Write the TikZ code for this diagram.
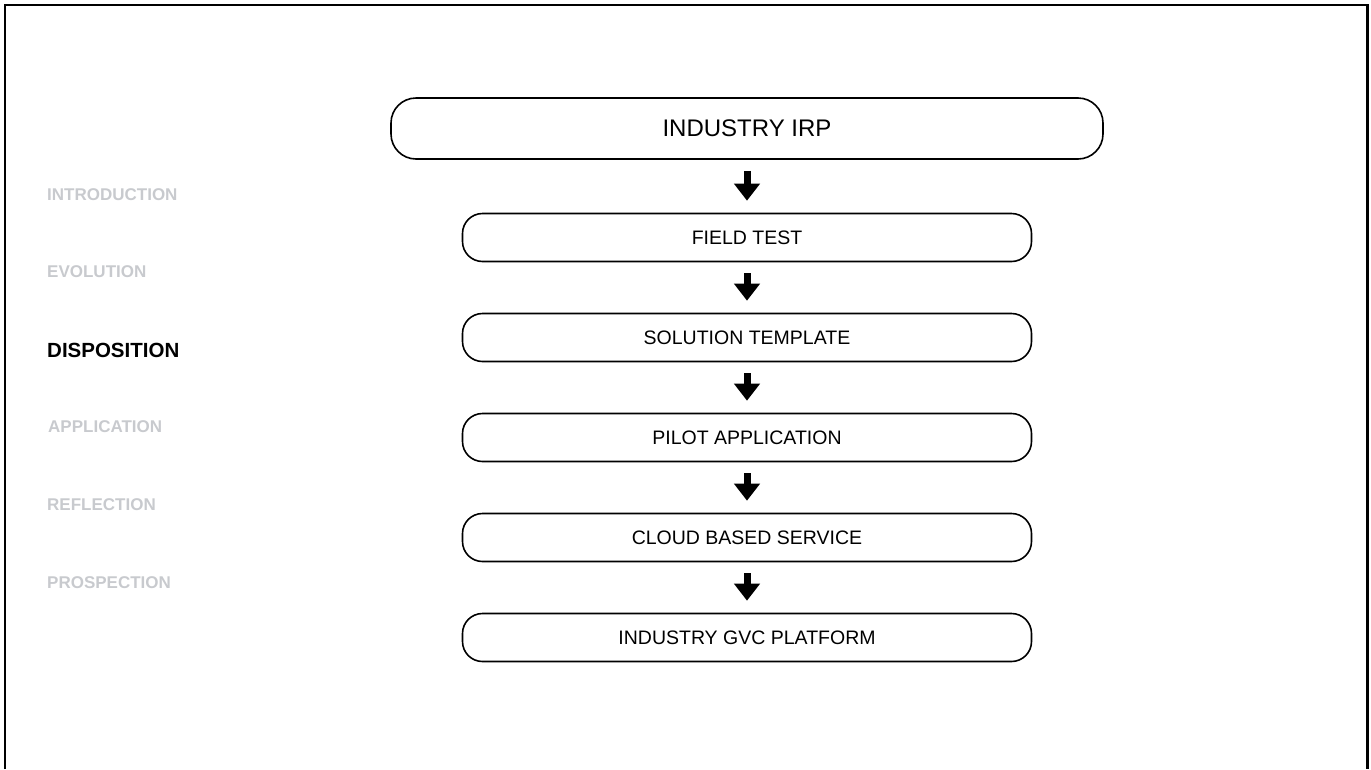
\documentclass[tikz,border=0pt]{standalone}
\usepackage{fontspec}
\setmainfont{Liberation Sans}
\usepackage{tikz}
\usetikzlibrary{positioning, arrows.meta}

\definecolor{stagegray}{RGB}{200,202,206}

\tikzset{
  bigstage/.style={draw, line width=1.6pt, rounded corners=25pt, minimum width=712pt,
    minimum height=61pt, inner sep=0pt, font=\fontsize{24}{28}\selectfont},
  stage/.style={draw, line width=1.6pt, rounded corners=20pt, minimum width=569pt,
    minimum height=48pt, inner sep=0pt, font=\fontsize{19.5}{23}\selectfont},
  phase/.style={anchor=west, inner sep=0pt, text=stagegray,
    font=\bfseries\fontsize{17}{20}\selectfont},
  curphase/.style={anchor=west, inner sep=0pt, text=black,
    font=\bfseries\fontsize{20.5}{24}\selectfont},
  flow/.style={line width=7pt, -{Triangle[width=25pt,length=17pt]},
    shorten <=11pt, shorten >=12pt}
}

\begin{document}
\begin{tikzpicture}
	[x=1pt, y=-1pt, on grid, node distance=100pt] 
   \useasboundingbox (0,0) rectangle (1371,769);
   \draw[line width=2.5pt] (5,769) -- (5,5) -- (1367.5,5) -- (1367.5,769);
   % stages
   \node[bigstage] (s_0) at (747,128.5) {INDUSTRY IRP}; 
   \node[stage] (s_1) [below=109pt of s_0] {FIELD TEST}; 
   \node[stage] (s_2) [below=of s_1] {SOLUTION TEMPLATE};
   \node[stage] (s_3) [below=of s_2] {PILOT APPLICATION};
   \node[stage] (s_4) [below=of s_3] {CLOUD BASED SERVICE};
   \node[stage] (s_5) [below=of s_4] {INDUSTRY GVC PLATFORM};
   \draw[flow] (s_0) -- (s_1);
   \foreach \a/\b in {1/2,2/3,3/4,4/5}
     \draw[flow] (s_\a) -- (s_\b);
   % phases
   \node[phase] (p_1) at (47,194.5) {INTRODUCTION};
   \node[phase] (p_2) at (47,271.5) {EVOLUTION};
   \node[curphase] (p_3) at (47,350) {DISPOSITION};
   \node[phase] (p_4) at (48,427) {APPLICATION};
   \node[phase] (p_5) at (47,505) {REFLECTION};
   \node[phase] (p_6) at (47,583) {PROSPECTION};
\end{tikzpicture}
\end{document}
